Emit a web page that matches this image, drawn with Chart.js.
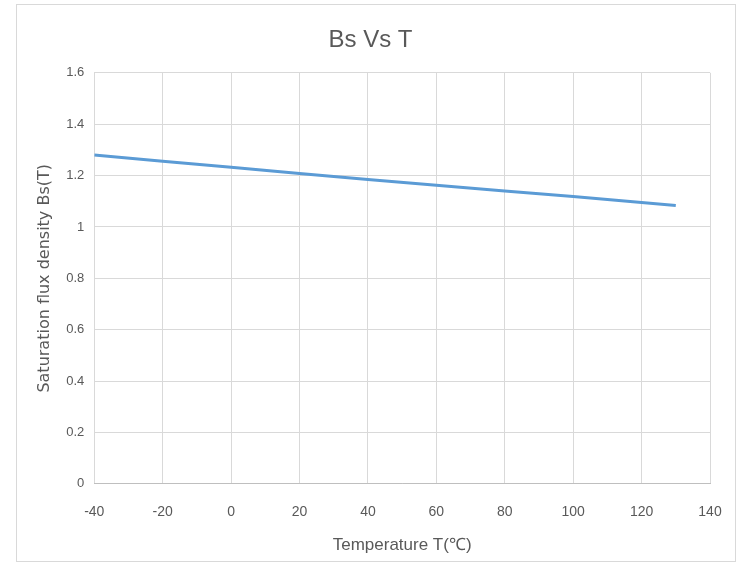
<!DOCTYPE html>
<html>
<head>
<meta charset="utf-8">
<script src="https://cdn.jsdelivr.net/npm/chart.js@4/dist/chart.umd.min.js"></script>
<style>
  html, body { margin: 0; padding: 0; background: #fff; }
  #wrap { position: relative; width: 744px; height: 564px; }
  #frame { position: absolute; left: 16px; top: 4px; width: 718px; height: 556px; border: 1px solid #d9d9d9; }
</style>
</head>
<body>
<div id="wrap">
  <div id="frame"></div>
  <canvas id="lineChart" width="744" height="564"></canvas>
</div>
<script>
// temperature (C) and saturation flux density (T)
const temps = [-40, -20, 0, 20, 40, 60, 80, 100, 120, 130];
const bs = [1.28, 1.256, 1.232, 1.208, 1.185, 1.162, 1.14, 1.118, 1.095, 1.083];

const tickFont = { family: "'Liberation Sans Narrow', 'Liberation Sans', sans-serif", size: 14 };
const grey = "#595959";

const makeGraph = () => {
  const chart_ctx = document.getElementById("lineChart");
  const data = {
    datasets: [
      {
        label: "Bs",
        data: temps.map((t, i) => ({ x: t, y: bs[i] })),
        borderColor: "#5b9bd5",
        backgroundColor: "#5b9bd5",
        borderWidth: 3,
        pointRadius: 0,
        tension: 0,
      },
    ],
  };
  const config = {
    type: "line",
    data,
    options: {
      responsive: false,
      animation: false,
      layout: { padding: { left: 31, right: 34, top: 22, bottom: 4 } },
      plugins: {
        legend: { display: false },
        tooltip: { enabled: false },
        title: {
          display: true,
          text: "Bs Vs T",
          color: grey,
          font: { family: "'Liberation Sans Narrow', 'Liberation Sans', sans-serif", size: 24, weight: "normal" },
          padding: { top: 4, bottom: 18 },
        },
      },
      scales: {
        x: {
          type: "linear",
          min: -40,
          max: 140,
          ticks: { stepSize: 20, color: grey, font: tickFont, padding: 20 },
          grid: { color: "#d9d9d9", drawTicks: false },
          border: { color: "#bfbfbf" },
          title: {
            display: true,
            text: "Temperature T(℃)",
            color: grey,
            font: { family: "'Liberation Sans Narrow', 'Liberation Sans', sans-serif", size: 17 },
            padding: { top: -5 },
          },
        },
        y: {
          min: 0,
          max: 1.6,
          ticks: {
            stepSize: 0.2,
            color: grey,
            font: { family: tickFont.family, size: 13 },
            padding: 10,
            callback: (v) => String(Number(v.toFixed(1))),
          },
          grid: { color: "#d9d9d9", drawTicks: false },
          border: { display: false },
          title: {
            display: true,
            text: "Saturation flux density Bs(T)",
            color: grey,
            font: { family: "'DejaVu Sans', sans-serif", size: 16 },
            padding: { bottom: 2 },
          },
        },
      },
    },
  };
  return new Chart(chart_ctx, config);
};

makeGraph();
</script>
</body>
</html>
